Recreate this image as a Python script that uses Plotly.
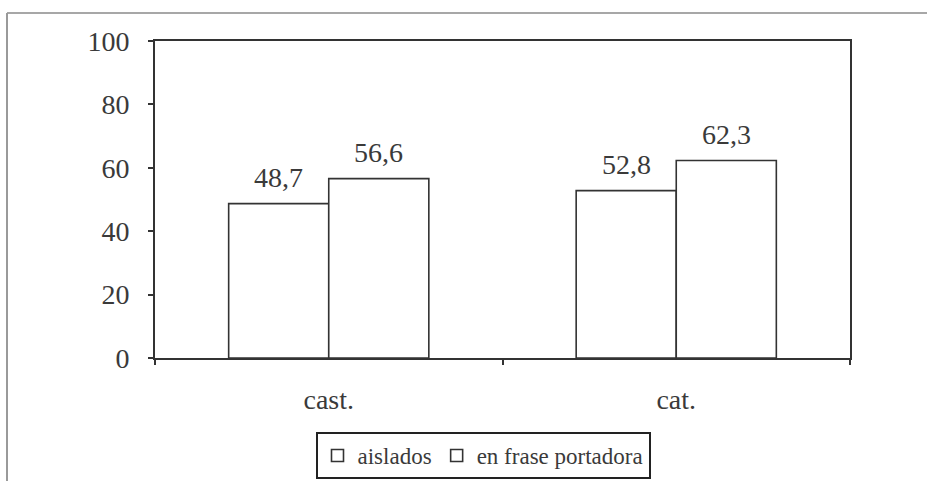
import plotly.graph_objects as go

# Categories and series
categories = ["cast.", "cat."]
series_names = ["aislados", "en frase portadora"]
aislados = [48.7, 52.8]
en_frase = [56.6, 62.3]
y_ticks = [0, 20, 40, 60, 80, 100]

W, H = 927, 481
L, R, T, B = 155, 77, 41, 123
plot_w = W - L - R
plot_h = H - T - B
BARGAP = 0.424

SERIF = "Liberation Serif"
INK = "#3a3a3a"
LINE = "#333333"

series = [aislados, en_frase]

fig = go.Figure()
for name, vals in zip(series_names, series):
    fig.add_trace(go.Bar(
        name=name,
        x=categories,
        y=vals,
        marker=dict(color="white", line=dict(color=LINE, width=1.6)),
        cliponaxis=False,
    ))

# Value labels above each bar, offset sideways by the bar's own width
slot_px = plot_w / len(categories)
bar_px = slot_px * (1 - BARGAP) / len(series)
for s_idx, vals in enumerate(series):
    shift = (s_idx - (len(series) - 1) / 2) * bar_px
    for cat, v in zip(categories, vals):
        fig.add_annotation(
            x=cat, y=v, xref="x", yref="y",
            text=f"{v:.1f}".replace(".", ","),
            showarrow=False,
            xanchor="center", yanchor="bottom",
            xshift=shift, yshift=9,
            font=dict(family=SERIF, size=28, color=INK),
        )

# Outer frame: only top and left edges of the surrounding box
fx0 = (7 - L) / plot_w
fy_top = 1 + (T - 13) / plot_h
fy_bot = (H - B - H) / plot_h
fig.add_shape(type="line", xref="paper", yref="paper",
              x0=fx0, x1=(W - L) / plot_w, y0=fy_top, y1=fy_top,
              line=dict(color="#8a8a8a", width=1.5))
fig.add_shape(type="line", xref="paper", yref="paper",
              x0=fx0, x1=fx0, y0=fy_top, y1=fy_bot,
              line=dict(color="#9a9a9a", width=2))

fig.update_layout(
    width=W, height=H,
    margin=dict(l=L, r=R, t=T, b=B, autoexpand=False),
    paper_bgcolor="white",
    plot_bgcolor="white",
    barmode="group",
    bargap=BARGAP,
    bargroupgap=0,
    separators=",.",
    font=dict(family=SERIF, color=INK),
    showlegend=True,
    legend=dict(
        orientation="h",
        x=(483 - L) / plot_w, xanchor="center",
        y=(H - B - 432) / plot_h, yanchor="top",
        bordercolor="#222222", borderwidth=2,
        bgcolor="white",
        font=dict(family=SERIF, size=23, color=INK),
    ),
    xaxis=dict(
        type="category",
        showline=True, linecolor=LINE, linewidth=2, mirror=True,
        ticks="outside", tickson="boundaries", ticklen=5, tickwidth=2,
        tickcolor=LINE,
        tickfont=dict(family=SERIF, size=28, color=INK),
        ticklabelstandoff=15,
        showgrid=False, zeroline=False,
    ),
    yaxis=dict(
        range=[0, 100],
        tickvals=y_ticks,
        showline=True, linecolor=LINE, linewidth=2, mirror=True,
        ticks="outside", ticklen=5, tickwidth=2, tickcolor=LINE,
        tickfont=dict(family=SERIF, size=28, color=INK),
        ticklabelstandoff=13,
        showgrid=False, zeroline=False,
    ),
)

fig.write_html("out.html")
